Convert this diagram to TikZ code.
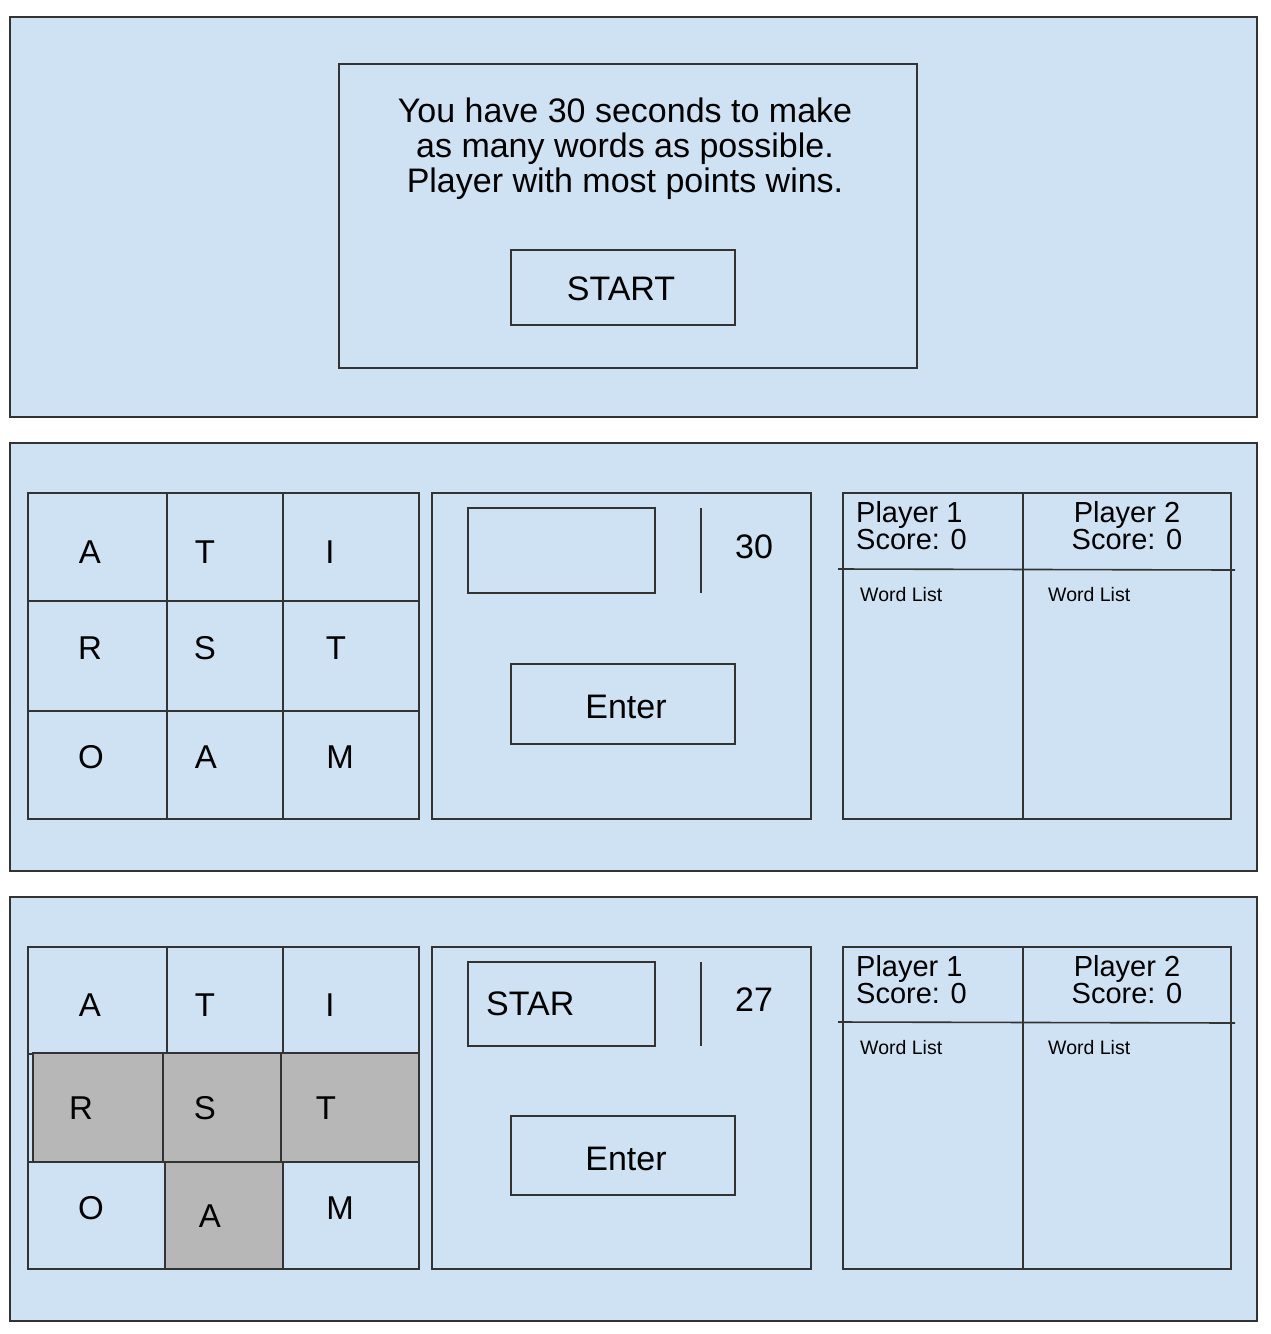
\documentclass[tikz,border=0pt]{standalone}
\usepackage{fontspec}
\setmainfont{Liberation Sans}
\definecolor{panelblue}{HTML}{CFE2F3}
\definecolor{cellgray}{HTML}{B7B7B7}
\definecolor{ink}{HTML}{333333}
\begin{document}
\begin{tikzpicture}[x=1pt,y=-1pt,
  box/.style={draw=ink,line width=1.6pt},
  big/.style={font=\fontsize{34}{35}\selectfont,text=black},
  letter/.style={font=\fontsize{33}{35}\selectfont,text=black,inner sep=0pt},
  player/.style={font=\fontsize{29}{27}\selectfont,text=black,inner sep=0pt},
  small/.style={font=\fontsize{19.5}{20}\selectfont,text=black,inner sep=0pt}]
\useasboundingbox (0,0) rectangle (1270,1334);
\fill[white] (0,0) rectangle (1270,1334);
% panel 1
\draw[box,fill=panelblue] (10,17) rectangle (1257,417);
\draw[box] (339,64) rectangle (917,368);
\node[big,align=center] (intro) at (625,149) {You have 30 seconds to make\\as many words as possible.\\Player with most points wins.};
\draw[box] (511,250) rectangle (735,325);
\node[big] (start) at (621,289) {START};
% panels 2 and 3: top, bottom, inner top, inner bottom, input top, input bottom, enter top, enter bottom, divider, name
\foreach \pt/\pb/\it/\ib/\xt/\xb/\et/\eb/\dv/\p in
   {443/871/493/819/508/593/664/744/569/b, 897/1321/947/1269/962/1046/1116/1195/1022/c}{
  \draw[box,fill=panelblue] (10,\pt) rectangle (1257,\pb);
  \draw[box] (432,\it) rectangle (811,\ib);
  \draw[box] (468,\xt) rectangle (655,\xb);
  \draw[box] (701,\xt) -- (701,\xb);
  \draw[box] (511,\et) rectangle (735,\eb);
  \node[big] (enter\p) at (626,{(\et+\eb)/2+3}) {Enter};
  \draw[box] (843,\it) rectangle (1231,\ib);
  \draw[box] (1023,\it) -- (1023,\ib);
  \draw[box] (838,\dv) -- (1235,\dv+1);
  \node[player,anchor=north west,align=left] (pa\p) at (856,\it+8) {Player 1\\Score: 0};
  \node[player,anchor=north,align=center] (pb\p) at (1127,\it+8) {Player 2\\Score: 0};
  \node[small,anchor=west] (wa\p) at (860,\dv+26) {Word List};
  \node[small,anchor=west] (wb\p) at (1048,\dv+26) {Word List};
}
% panel 2 grid
\draw[box] (28,493) rectangle (419,819);
\draw[box] (167,493) -- (167,819);
\draw[box] (283,493) -- (283,819);
\draw[box] (28,601) -- (419,601);
\draw[box] (28,711) -- (419,711);
\node[letter] (b11) at (90,552) {A};
\node[letter] (b12) at (205,552) {T};
\node[letter] (b13) at (330,552) {I};
\node[letter] (b21) at (90,648) {R};
\node[letter] (b22) at (205,648) {S};
\node[letter] (b23) at (336,648) {T};
\node[letter] (b31) at (91,757) {O};
\node[letter] (b32) at (206,757) {A};
\node[letter] (b33) at (340,757) {M};
\node[big] (timer1) at (754,547) {30};
% panel 3 grid
\draw[box] (28,947) rectangle (419,1269);
\draw[box] (167,947) -- (167,1054);
\draw[box] (283,947) -- (283,1054);
\draw[box] (28,1054) -- (419,1054);
\draw[box] (28,1162) -- (419,1162);
\draw[box,fill=cellgray] (33,1053) rectangle (163,1162);
\draw[box,fill=cellgray] (163,1053) rectangle (281,1162);
\draw[box,fill=cellgray] (281,1053) rectangle (419,1162);
\draw[box,fill=cellgray] (165,1162) rectangle (283,1269);
\node[letter] (c11) at (90,1005) {A};
\node[letter] (c12) at (205,1005) {T};
\node[letter] (c13) at (330,1005) {I};
\node[letter] (c21) at (81,1108) {R};
\node[letter] (c22) at (205,1108) {S};
\node[letter] (c23) at (326,1108) {T};
\node[letter] (c31) at (91,1208) {O};
\node[letter] (c32) at (210,1216) {A};
\node[letter] (c33) at (340,1208) {M};
\node[big,anchor=west,inner sep=0pt] (word) at (486,1004) {STAR};
\node[big] (timer2) at (754,1000) {27};
\end{tikzpicture}
\end{document}
